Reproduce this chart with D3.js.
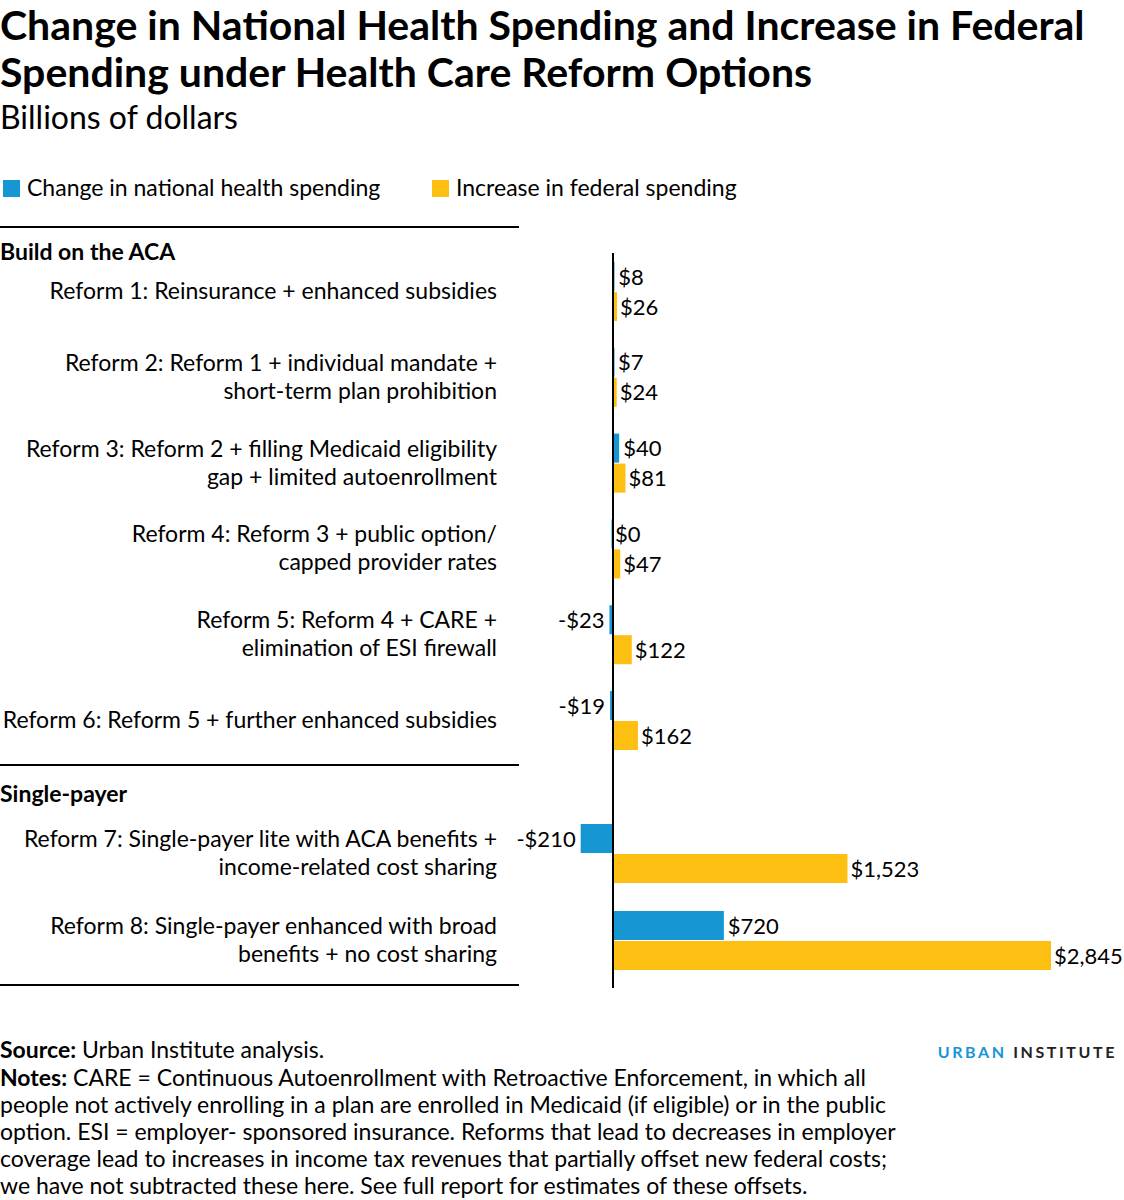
<!DOCTYPE html>
<html>
<head>
<meta charset="utf-8">
<script src="https://cdn.jsdelivr.net/npm/d3@7"></script>
<style>
  body { margin: 0; background: #fff; }
  svg { font-family: Lato, "Open Sans", sans-serif; }
</style>
</head>
<body>
<div class="vis-chart"></div>
<script>
// data
const groups = ["Build on the ACA", "Single-payer"];
const reforms = [
    ["Reform 1: Reinsurance + enhanced subsidies"],
    ["Reform 2: Reform 1 + individual mandate +", "short-term plan prohibition"],
    ["Reform 3: Reform 2 + filling Medicaid eligibility", "gap + limited autoenrollment"],
    ["Reform 4: Reform 3 + public option/", "capped provider rates"],
    ["Reform 5: Reform 4 + CARE +", "elimination of ESI firewall"],
    ["Reform 6: Reform 5 + further enhanced subsidies"],
    ["Reform 7: Single-payer lite with ACA benefits +", "income-related cost sharing"],
    ["Reform 8: Single-payer enhanced with broad", "benefits + no cost sharing"]
];
const reformGroup = [0, 0, 0, 0, 0, 0, 1, 1];
const nationalSpending = [8, 7, 40, 0, -23, -19, -210, 720];
const federalSpending = [26, 24, 81, 47, 122, 162, 1523, 2845];
const seriesNames = ["Change in national health spending", "Increase in federal spending"];

const blue = "#1696d2";
const yellow = "#fdbf11";

const drawChart = () => {
    d3.select('.vis-chart > *').remove();
    const width = 1124, height = 1200;
    const svg = d3.select('.vis-chart').append('svg')
        .attr('width', width)
        .attr('height', height);

    // title block
    svg.append("text").attr("x", 0).attr("y", 40)
        .style("font-size", "41px").style("font-weight", 700)
        .text("Change in National Health Spending and Increase in Federal");
    svg.append("text").attr("x", 0).attr("y", 87)
        .style("font-size", "41px").style("font-weight", 700)
        .text("Spending under Health Care Reform Options");
    svg.append("text").attr("x", 0).attr("y", 129)
        .style("font-size", "32px")
        .text("Billions of dollars");

    // legend
    const legendX = [3, 432];
    const legend = svg.selectAll(".legend")
        .data(seriesNames)
        .enter().append("g")
        .attr("class", "legend")
        .attr("transform", (d, i) => "translate(" + legendX[i] + ",180)");
    legend.append("rect")
        .attr("width", 17).attr("height", 17)
        .attr("fill", (d, i) => i === 0 ? blue : yellow);
    legend.append("text")
        .attr("x", 24).attr("y", 16)
        .style("font-size", "23px")
        .text(d => d);

    // rows: one point scale per group
    const rowScales = [
        d3.scalePoint().domain(d3.range(6)).range([291, 720]),
        d3.scalePoint().domain([6, 7]).range([853, 940])
    ];
    const rowY = i => rowScales[reformGroup[i]](i);

    const x = d3.scaleLinear()
        .domain([0, d3.max(federalSpending)])
        .range([613, 1051]);

    const barH = 29;
    const rows = reforms.map((lines, i) => ({
        lines: lines,
        national: nationalSpending[i],
        federal: federalSpending[i],
        y: rowY(i)
    }));

    // separators and group headings
    const sepY = [227, 765, 985];
    svg.selectAll(".sep")
        .data(sepY)
        .enter().append("line")
        .attr("class", "sep")
        .attr("x1", 0).attr("x2", 519)
        .attr("y1", d => d).attr("y2", d => d)
        .attr("stroke", "#000").attr("stroke-width", 2);
    const headY = [260, 802];
    svg.selectAll(".group")
        .data(groups)
        .enter().append("text")
        .attr("class", "group")
        .attr("x", 0).attr("y", (d, i) => headY[i])
        .style("font-size", "23px").style("font-weight", 700)
        .text(d => d);

    // category labels
    const label = svg.selectAll(".cat")
        .data(rows)
        .enter().append("text")
        .attr("class", "cat")
        .attr("text-anchor", "end")
        .style("font-size", "23px");
    label.selectAll("tspan")
        .data(d => d.lines.map((t, k) => ({ t: t, k: k, n: d.lines.length, y: d.y })))
        .enter().append("tspan")
        .attr("x", 497)
        .attr("y", d => d.n === 1 ? d.y + 8 : d.y - 6 + d.k * 28)
        .text(d => d.t);

    // bars
    svg.selectAll(".bar-nat")
        .data(rows)
        .enter().append("rect")
        .attr("class", "bar-nat")
        .attr("x", d => Math.min(x(0), x(d.national)) - (d.national === 0 ? 1.5 : 0))
        .attr("width", d => Math.max(1.5, Math.abs(x(d.national) - x(0))))
        .attr("y", d => d.y - barH)
        .attr("height", barH)
        .attr("fill", blue);
    svg.selectAll(".bar-fed")
        .data(rows)
        .enter().append("rect")
        .attr("class", "bar-fed")
        .attr("x", x(0))
        .attr("width", d => x(d.federal) - x(0))
        .attr("y", d => d.y + 1)
        .attr("height", barH)
        .attr("fill", yellow);

    // value labels
    const fmt = v => (v < 0 ? "-$" : "$") + d3.format(",")(Math.abs(v));
    svg.selectAll(".val-nat")
        .data(rows)
        .enter().append("text")
        .attr("class", "val-nat")
        .attr("x", d => d.national < 0 ? x(d.national) - 5 : x(d.national) + (d.national === 0 ? 2 : 4))
        .attr("y", d => d.y - barH / 2 + 8)
        .attr("text-anchor", d => d.national < 0 ? "end" : "start")
        .style("font-size", "22px")
        .text(d => fmt(d.national));
    svg.selectAll(".val-fed")
        .data(rows)
        .enter().append("text")
        .attr("class", "val-fed")
        .attr("x", d => x(d.federal) + 3)
        .attr("y", d => d.y + 1 + barH / 2 + 8)
        .style("font-size", "22px")
        .text(d => fmt(d.federal));

    // zero axis
    svg.append("line")
        .attr("x1", x(0)).attr("x2", x(0))
        .attr("y1", 253).attr("y2", 988)
        .attr("stroke", "#000").attr("stroke-width", 2);

    // footer
    const source = svg.append("text").attr("x", 0).attr("y", 1058).style("font-size", "23px");
    source.append("tspan").style("font-weight", 700).text("Source:");
    source.append("tspan").text(" Urban Institute analysis.");
    const notes = [
        "CARE = Continuous Autoenrollment with Retroactive Enforcement, in which all",
        "people not actively enrolling in a plan are enrolled in Medicaid (if eligible) or in the public",
        "option. ESI = employer- sponsored insurance. Reforms that lead to decreases in employer",
        "coverage lead to increases in income tax revenues that partially offset new federal costs;",
        "we have not subtracted these here. See full report for estimates of these offsets."
    ];
    notes.forEach((t, i) => {
        const line = svg.append("text").attr("x", 0).attr("y", 1086 + i * 27).style("font-size", "23px");
        if (i === 0) {
            line.append("tspan").style("font-weight", 700).text("Notes:");
            line.append("tspan").text(" " + t);
        } else {
            line.text(t);
        }
    });

    const logo = svg.append("text")
        .attr("x", 1117).attr("y", 1058)
        .attr("text-anchor", "end")
        .style("font-size", "16px").style("font-weight", 700)
        .style("letter-spacing", "2.6px");
    logo.append("tspan").attr("fill", blue).text("URBAN ");
    logo.append("tspan").attr("fill", "#222").text("INSTITUTE");
};

drawChart();
</script>
</body>
</html>
